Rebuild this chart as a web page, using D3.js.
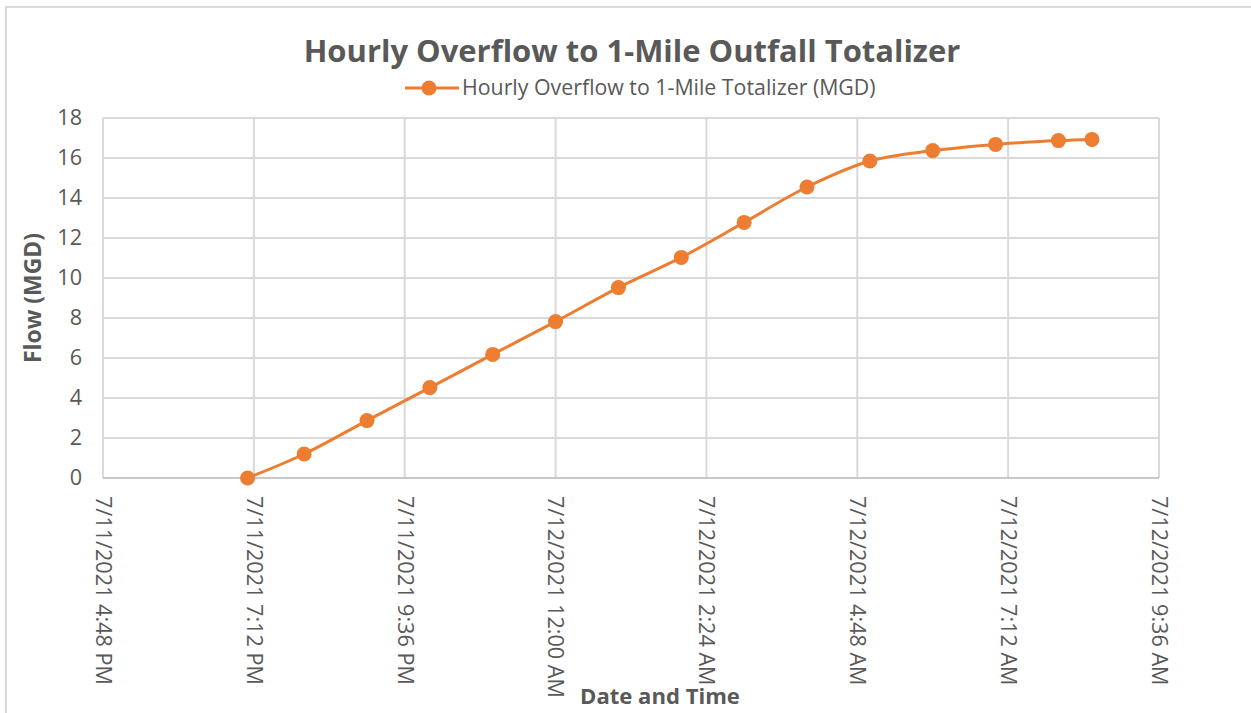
<!DOCTYPE html>
<html>
<head>
  <meta charset="utf-8">
  <script src="https://cdn.jsdelivr.net/npm/d3@7"></script>
  <style>
    body { margin: 0; background: #fff; }
    text { font-family: "Open Sans", sans-serif; fill: #595959; }
    .grid line { stroke: #d9d9d9; stroke-width: 2; }
    .axis path, .axis line { display: none; }
  </style>
</head>
<body>
  <script>
    // readings, hourly totalizer
    var times = [
      "2021-07-11T19:06", "2021-07-11T20:00", "2021-07-11T21:00", "2021-07-11T22:00",
      "2021-07-11T23:00", "2021-07-12T00:00", "2021-07-12T01:00", "2021-07-12T02:00",
      "2021-07-12T03:00", "2021-07-12T04:00", "2021-07-12T05:00", "2021-07-12T06:00",
      "2021-07-12T07:00", "2021-07-12T08:00", "2021-07-12T08:32"
    ];
    var flows = [0, 1.2, 2.87, 4.52, 6.18, 7.82, 9.52, 11.03, 12.78, 14.55, 15.85, 16.37, 16.68, 16.87, 16.93];
    var xTickLabels = [
      "7/11/2021 4:48 PM", "7/11/2021 7:12 PM", "7/11/2021 9:36 PM", "7/12/2021 12:00 AM",
      "7/12/2021 2:24 AM", "7/12/2021 4:48 AM", "7/12/2021 7:12 AM", "7/12/2021 9:36 AM"
    ];
    var yTicks = [0, 2, 4, 6, 8, 10, 12, 14, 16, 18];

    (function() {
      var W = 1251, H = 713;
      var pLeft = 103, pRight = 1159, pTop = 118, pBottom = 478;

      // scale a text's font so it spans the wanted width
      function fit(sel, target) {
        var w = sel.node().getComputedTextLength();
        var fs = parseFloat(sel.style("font-size"));
        sel.style("font-size", (fs * target / w) + "px");
      }

      var data = times.map(function(t, i) {
        return { date: new Date(t), value: flows[i] };
      });

      var start = new Date("2021-07-11T16:48"),
          end = new Date("2021-07-12T09:36");
      var tickDates = xTickLabels.map(function(d, i) {
        return new Date(+start + i * (end - start) / (xTickLabels.length - 1));
      });

      var x = d3.scaleTime().domain([start, end]).range([pLeft, pRight]);
      var y = d3.scaleLinear().domain([0, 18]).range([pBottom, pTop]);

      var svg = d3.select("body").append("svg")
        .attr("width", W).attr("height", H);

      // chart frame
      svg.append("rect")
        .attr("x", 6).attr("y", 7)
        .attr("width", W + 10).attr("height", H + 10)
        .attr("fill", "none").attr("stroke", "#d9d9d9").attr("stroke-width", 2);

      // gridlines
      svg.append("g").attr("class", "grid")
        .selectAll("line").data(yTicks).join("line")
        .attr("x1", pLeft).attr("x2", pRight)
        .attr("y1", function(d) { return y(d); }).attr("y2", function(d) { return y(d); });

      svg.append("g").attr("class", "grid")
        .selectAll("line").data(tickDates).join("line")
        .attr("x1", function(d) { return x(d); }).attr("x2", function(d) { return x(d); })
        .attr("y1", pTop).attr("y2", pBottom);

      svg.append("line")
        .attr("x1", pLeft).attr("x2", pRight).attr("y1", pBottom).attr("y2", pBottom)
        .attr("stroke", "#c8c8c8").attr("stroke-width", 2);

      // y axis
      var yAxis = svg.append("g").attr("class", "axis")
        .attr("transform", "translate(" + pLeft + ",0)")
        .call(d3.axisLeft(y).tickValues(yTicks).tickSize(0).tickPadding(21));
      yAxis.selectAll("text").style("font-size", "17px").style("fill", "#595959")
        .style("font-family", "'Open Sans', sans-serif");

      // x axis, labels rotated downwards
      var xAxis = svg.append("g").attr("class", "axis")
        .attr("transform", "translate(0," + pBottom + ")")
        .call(d3.axisBottom(x).tickValues(tickDates).tickSize(0)
          .tickFormat(function(d, i) { return xTickLabels[i]; }));
      xAxis.selectAll("text")
        .attr("transform", "rotate(90)")
        .attr("x", 18).attr("y", 0).attr("dy", "0.35em")
        .style("text-anchor", "start")
        .style("font-size", "17px").style("fill", "#595959")
        .style("font-family", "'Open Sans', sans-serif");
      fit(xAxis.select("text"), 189);
      var tickFs = xAxis.select("text").style("font-size");
      xAxis.selectAll("text").style("font-size", tickFs);
      yAxis.selectAll("text").style("font-size", tickFs);

      // series
      var line = d3.line()
        .x(function(d) { return x(d.date); })
        .y(function(d) { return y(d.value); })
        .curve(d3.curveCatmullRom.alpha(0.5));

      svg.append("path").datum(data)
        .attr("d", line)
        .attr("fill", "none").attr("stroke", "#ed7d31").attr("stroke-width", 3);

      svg.append("g").selectAll("circle").data(data).join("circle")
        .attr("cx", function(d) { return x(d.date); })
        .attr("cy", function(d) { return y(d.value); })
        .attr("r", 7.5).attr("fill", "#ed7d31");

      // title
      var title = svg.append("text")
        .attr("x", 632).attr("y", 62)
        .attr("text-anchor", "middle")
        .style("font-size", "28px").style("font-weight", "bold")
        .text("Hourly Overflow to 1-Mile Outfall Totalizer");
      fit(title, 657);

      // legend
      var lg = svg.append("g").attr("transform", "translate(405,88)");
      lg.append("line").attr("x1", 0).attr("x2", 54)
        .attr("stroke", "#ed7d31").attr("stroke-width", 3);
      lg.append("circle").attr("cx", 24).attr("r", 7.5).attr("fill", "#ed7d31");
      var lgText = lg.append("text").attr("x", 57).attr("dy", "0.35em")
        .style("font-size", "17px")
        .text("Hourly Overflow to 1-Mile Totalizer (MGD)");
      fit(lgText, 414);

      // axis titles
      var yTitle = svg.append("text")
        .attr("transform", "translate(41," + ((pTop + pBottom) / 2) + ") rotate(-90)")
        .attr("text-anchor", "middle")
        .style("font-size", "19px").style("font-weight", "bold")
        .text("Flow (MGD)");
      fit(yTitle, 130);

      var xTitle = svg.append("text")
        .attr("x", 660).attr("y", 704)
        .attr("text-anchor", "middle")
        .style("font-size", "19px").style("font-weight", "bold")
        .text("Date and Time");
      fit(xTitle, 160);
    })();
  </script>
</body>
</html>
